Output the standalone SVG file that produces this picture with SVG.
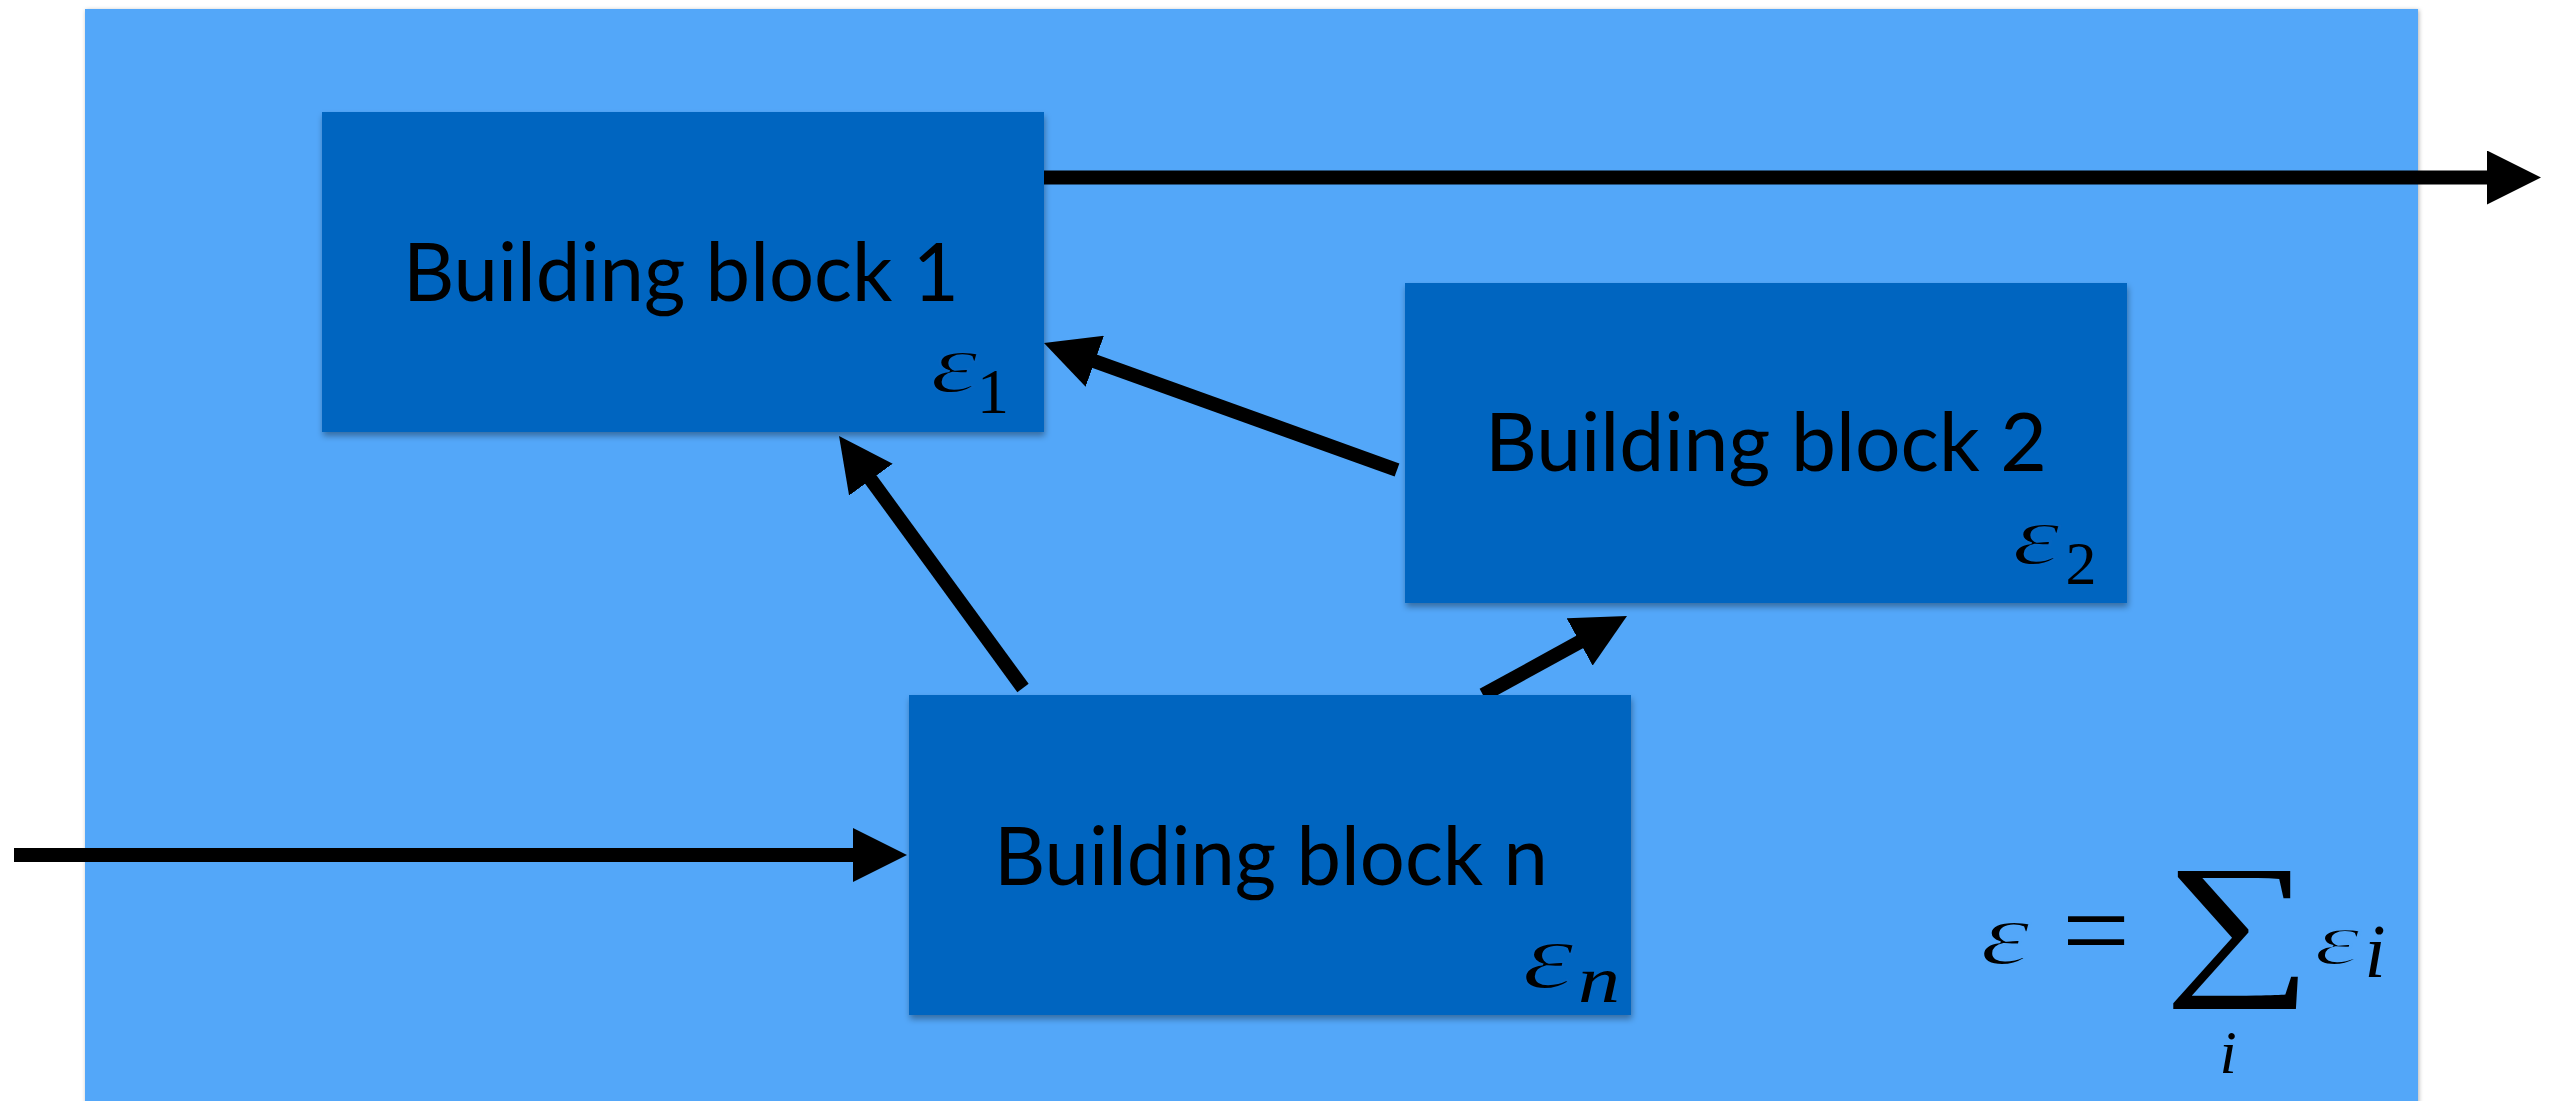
<svg xmlns="http://www.w3.org/2000/svg" width="2558" height="1101" viewBox="0 0 2558 1101">
  <style>
    .panel { fill: #52A7F9; }
    .block { fill: #0465C0; }
    .label { font-family: Lato, "Open Sans", sans-serif; font-size: 82px; fill: #000; text-anchor: middle; }
    .mi { font-family: "Liberation Serif", "DejaVu Serif", serif; font-style: italic; fill: #000; text-anchor: middle; }
    .mr { font-family: "Liberation Serif", "DejaVu Serif", serif; fill: #000; text-anchor: middle; }
    /* a thin halo in the surface colour lightens the heavy italic epsilon */
    .thin-dark { stroke: #0465C0; stroke-width: 2; }
    .thin-light { stroke: #52A7F9; stroke-width: 2; }
    .wire { stroke: #000; stroke-width: 14; fill: none; stroke-linecap: butt; }
  </style>
  <defs>
    <filter id="panelShadow" x="-2%" y="-2%" width="104%" height="104%">
      <feDropShadow dx="1" dy="1" stdDeviation="2" flood-color="#000" flood-opacity="0.3"/>
    </filter>
    <filter id="blockShadow" x="-5%" y="-5%" width="110%" height="115%">
      <feDropShadow dx="1" dy="4" stdDeviation="3" flood-color="#000" flood-opacity="0.35"/>
    </filter>
    <marker id="head" viewBox="0 0 54 54" refX="2" refY="27" markerWidth="54" markerHeight="54" markerUnits="userSpaceOnUse" orient="auto">
      <path d="M0,0 L54,27 L0,54 Z" fill="#000"/>
    </marker>
  </defs>

  <!-- outer panel -->
  <rect class="panel" x="85" y="9" width="2333" height="1100" filter="url(#panelShadow)"/>

  <!-- connectors -->
  <g id="connectors">
    <line class="wire" x1="1044" y1="177.5" x2="2489" y2="177.5" marker-end="url(#head)"/>
    <line class="wire" x1="14" y1="855" x2="855" y2="855" marker-end="url(#head)"/>
    <line class="wire" x1="1023" y1="688" x2="869.7" y2="478" marker-end="url(#head)"/>
    <line class="wire" x1="1397" y1="470" x2="1092.9" y2="360.6" marker-end="url(#head)"/>
    <line class="wire" x1="1483" y1="695" x2="1581.4" y2="641" marker-end="url(#head)"/>
  </g>

  <!-- building block 1 -->
  <g id="block1">
    <rect class="block" x="322" y="112" width="722" height="320" filter="url(#blockShadow)"/>
    <text class="label" x="681" y="301" textLength="556" lengthAdjust="spacingAndGlyphs">Building block 1</text>
    <text class="mi thin-dark" x="954" y="392" font-size="84" textLength="48" lengthAdjust="spacingAndGlyphs">ε</text>
    <text class="mr" x="993" y="413" font-size="64">1</text>
  </g>

  <!-- building block 2 -->
  <g id="block2">
    <rect class="block" x="1405" y="283" width="722" height="320" filter="url(#blockShadow)"/>
    <text class="label" x="1766" y="471" textLength="562" lengthAdjust="spacingAndGlyphs">Building block 2</text>
    <text class="mi thin-dark" x="2036" y="564" font-size="84" textLength="48" lengthAdjust="spacingAndGlyphs">ε</text>
    <text class="mr" x="2081" y="584" font-size="62">2</text>
  </g>

  <!-- building block n -->
  <g id="blockn">
    <rect class="block" x="909" y="695" width="722" height="320" filter="url(#blockShadow)"/>
    <text class="label" x="1271" y="885" textLength="554" lengthAdjust="spacingAndGlyphs">Building block n</text>
    <text class="mi thin-dark" x="1548" y="988" font-size="96" textLength="52" lengthAdjust="spacingAndGlyphs">ε</text>
    <text class="mi" x="1599" y="1002" font-size="66" textLength="42" lengthAdjust="spacingAndGlyphs">n</text>
  </g>

  <!-- total error formula -->
  <g id="formula">
    <text class="mi thin-light" x="2005" y="964" font-size="88" textLength="50" lengthAdjust="spacingAndGlyphs">ε</text>
    <text class="mr" x="2096" y="969" font-size="115" textLength="68" lengthAdjust="spacingAndGlyphs">=</text>
    <text class="mr" transform="translate(2164,975) scale(1.31,1)" x="0" y="0" font-size="159" style="text-anchor:start">∑</text>
    <text class="mi thin-light" x="2337" y="964" font-size="74" textLength="46" lengthAdjust="spacingAndGlyphs">ε</text>
    <text class="mi" x="2375" y="977" font-size="76">i</text>
    <text class="mi" x="2228" y="1073" font-size="62">i</text>
  </g>
</svg>
